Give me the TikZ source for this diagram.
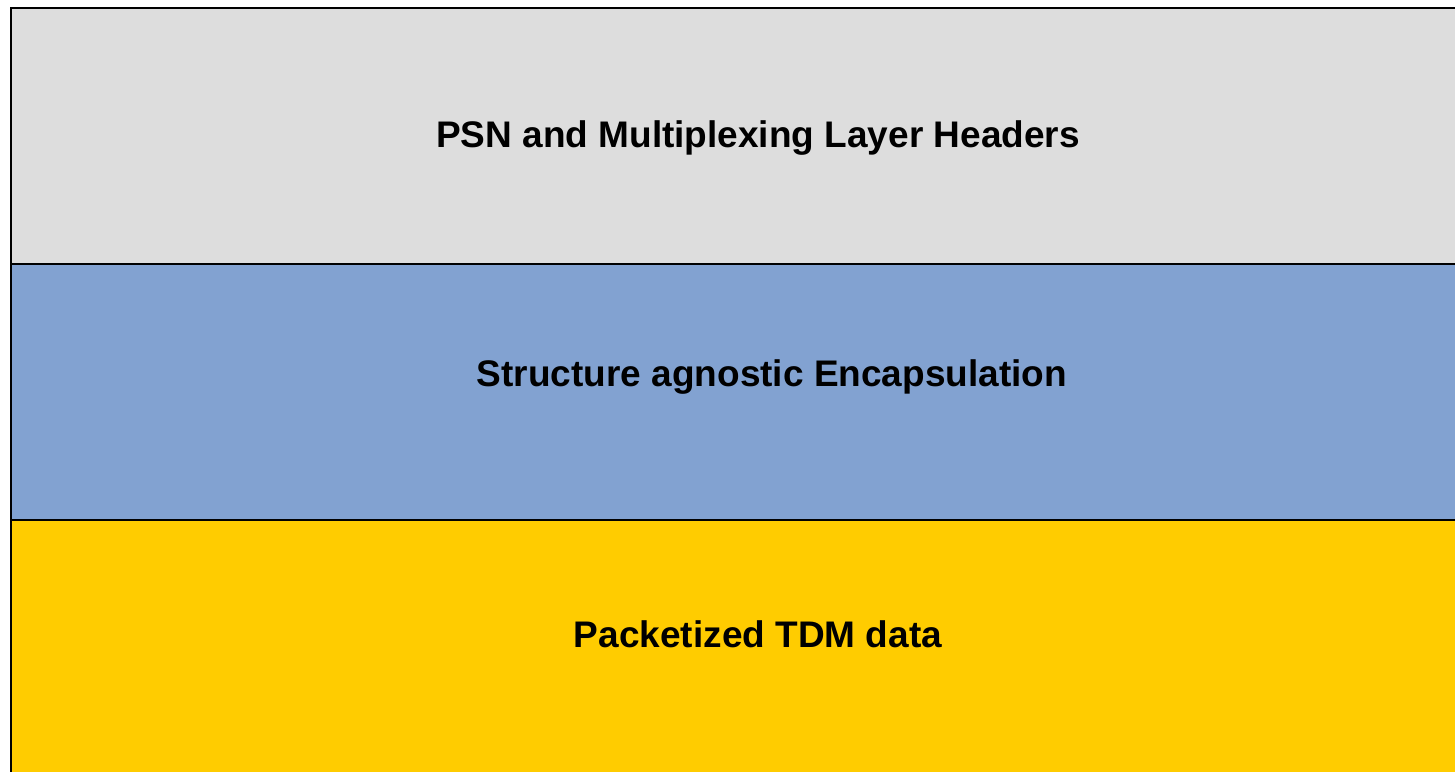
\documentclass[tikz,border=0pt]{standalone}
\usepackage{fontspec}
\setmainfont{Liberation Sans}
\definecolor{hdrgray}{HTML}{DDDDDD}
\definecolor{encblue}{HTML}{82A2D1}
\definecolor{tdmgold}{HTML}{FFCC00}
\begin{document}
\begin{tikzpicture}[x=1pt,y=-1pt,
  layer/.style={draw=black,line width=2.5pt},
  lbl/.style={font=\fontsize{37}{42}\selectfont\bfseries,inner sep=0pt,anchor=center}]
\useasboundingbox (0,0) rectangle (1455,771);
\clip (0,0) rectangle (1455,771);
% protocol stack layers
\path[layer,fill=hdrgray] (11,8) rectangle (1510,264);
\path[layer,fill=encblue] (11,264) rectangle (1510,520);
\path[layer,fill=tdmgold] (11,520) rectangle (1510,780);
\node[lbl] (psn) at (758,138) {PSN and Multiplexing Layer Headers};
\node[lbl] (enc) at (772,377) {Structure agnostic Encapsulation};
\node[lbl] (tdm) at (758,634) {Packetized TDM data};
\end{tikzpicture}
\end{document}
